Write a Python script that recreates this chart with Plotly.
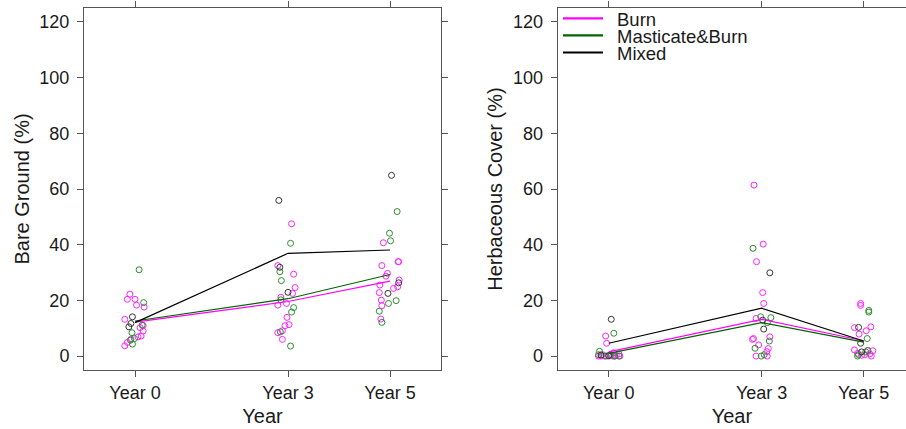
import plotly.graph_objects as go

# Sampling years and their labels
years = [0, 3, 5]
year_labels = ["Year 0", "Year 3", "Year 5"]
y_ticks = [0, 20, 40, 60, 80, 100, 120]
groups = ["Burn", "Masticate&Burn", "Mixed"]

# ---- Bare ground (%) : plot-level observations (jittered year position, value)
bare_burn_x = [-0.10, -0.15, 0.00, 0.03, 0.18, -0.20, 0.16, 0.10, 0.16, 0.12, 0.06, -0.08, -0.15, -0.20,
               3.07, 2.80, 3.11, 3.14, 3.09, 2.86, 2.97, 2.80, 2.98, 3.02, 2.94, 2.89, 2.80, 2.89,
               4.87, 5.16, 5.17, 4.84, 4.95, 4.92, 5.18, 4.80, 5.15, 5.07, 4.79, 4.83, 4.84, 4.82]
bare_burn_y = [22.2, 20.4, 20.4, 18.3, 17.6, 13.2, 11.0, 10.2, 9.0, 7.2, 6.9, 6.0, 4.9, 3.7,
               47.5, 32.5, 29.4, 24.6, 22.5, 21.1, 18.9, 18.3, 13.9, 11.3, 10.9, 9.1, 8.4, 6.0,
               40.7, 33.9, 33.9, 32.5, 29.7, 28.7, 27.3, 25.5, 24.9, 24.3, 22.8, 20.1, 18.1, 13.3]

bare_mb_x = [0.08, 0.17, 0.14, -0.06, -0.01, -0.09, -0.05,
             3.05, 2.84, 2.87, 2.86, 3.11, 3.07, 2.85, 3.05,
             5.14, 4.99, 5.01, 5.12, 4.97, 4.79, 4.84]
bare_mb_y = [31.0, 19.2, 11.1, 8.4, 6.3, 5.7, 4.3,
             40.5, 30.3, 27.1, 20.2, 17.4, 15.8, 8.7, 3.6,
             51.9, 44.1, 41.4, 19.9, 18.9, 16.1, 12.1]

bare_mix_x = [-0.05, -0.08, -0.12, 2.82, 2.84, 3.00, 5.03, 5.17, 4.96]
bare_mix_y = [14.1, 11.7, 10.5, 55.9, 31.9, 22.9, 64.9, 26.3, 22.5]

# Group means by year
bare_burn_mean = [12.2, 19.6, 26.9]
bare_mb_mean = [12.6, 20.6, 29.3]
bare_mix_mean = [12.0, 36.9, 38.1]

# ---- Herbaceous cover (%)
herb_burn_x = [-0.06, -0.04, 0.10, 0.20, -0.12, 0.05, 0.15, -0.20, -0.08, 0.00, 0.08, 0.12, 0.22, -0.15,
               2.85, 3.03, 2.90, 3.02, 3.04, 2.89, 3.16, 2.84, 2.82, 2.94, 3.13, 3.10, 2.89, 3.11,
               4.94, 4.94, 5.14, 4.82, 5.05, 4.91, 4.82, 5.08, 5.18, 4.88, 5.12, 5.02, 4.96, 5.15]
herb_burn_y = [7.2, 4.6, 1.2, 0.8, 0.5, 0.3, 0.2, 0.0, 0.0, 0.0, 0.0, 0.0, 0.0, 0.0,
               61.4, 40.2, 33.9, 22.8, 18.9, 13.5, 6.9, 6.3, 6.0, 4.0, 2.7, 1.6, 0.0, 0.0,
               18.9, 18.2, 10.5, 10.2, 9.1, 7.9, 2.2, 2.0, 1.9, 1.0, 0.8, 0.5, 0.3, 0.0]

herb_mb_x = [0.10, -0.18, -0.20, 0.03, -0.05, 0.12, 0.20,
             2.83, 2.98, 3.18, 3.11, 3.15, 2.87, 3.05, 2.99,
             5.10, 5.10, 5.07, 5.08, 5.04, 4.90, 4.88]
herb_mb_y = [8.2, 1.7, 0.5, 0.3, 0.0, 0.0, 0.0,
             38.7, 14.1, 13.8, 12.0, 5.4, 2.8, 0.5, 0.0,
             16.4, 15.8, 6.3, 2.0, 1.5, 0.5, 0.0]

herb_mix_x = [0.05, -0.15, 0.00, 3.16, 3.02, 3.04, 4.90, 4.94, 4.96]
herb_mix_y = [13.2, 0.4, 0.2, 29.9, 12.9, 9.7, 10.3, 4.6, 1.5]

herb_burn_mean = [1.5, 13.2, 5.5]
herb_mb_mean = [1.0, 12.0, 5.0]
herb_mix_mean = [4.6, 17.2, 5.4]

# ---- styling
line_colors = ["#ff00ff", "#006400", "#000000"]
point_colors = ["#ff22ff", "#2e8b2e", "#333333"]
FONT = "Liberation Sans, Arial, sans-serif"
TEXT = "#1a1a1a"
FRAME = "#555555"
W, H = 906, 429

fig = go.Figure()

panels = [
    ("x", "y", [(bare_burn_x, bare_burn_y), (bare_mb_x, bare_mb_y), (bare_mix_x, bare_mix_y)],
     [bare_burn_mean, bare_mb_mean, bare_mix_mean]),
    ("x2", "y2", [(herb_burn_x, herb_burn_y), (herb_mb_x, herb_mb_y), (herb_mix_x, herb_mix_y)],
     [herb_burn_mean, herb_mb_mean, herb_mix_mean]),
]

for xa, ya, pts, means in panels:
    for i, (px, py) in enumerate(pts):
        fig.add_trace(go.Scatter(
            x=px, y=py, xaxis=xa, yaxis=ya, mode="markers", showlegend=False,
            marker=dict(symbol="circle-open", size=6, color=point_colors[i],
                        line=dict(width=1, color=point_colors[i])),
            hoverinfo="skip"))
    for i, m in enumerate(means):
        fig.add_trace(go.Scatter(
            x=years, y=m, xaxis=xa, yaxis=ya, mode="lines", showlegend=False,
            line=dict(color=line_colors[i], width=1.2), name=groups[i]))

# pixel -> paper helpers for the layout
def px_x(p):
    return p / W

def px_y(p):
    return 1 - p / H

y_dom = [px_y(370), px_y(8)]

common_x = dict(tickvals=years, ticktext=year_labels, showline=True, linecolor=FRAME, linewidth=1,
                ticks="outside", ticklen=6, tickcolor=FRAME, showgrid=False, zeroline=False,
                tickfont=dict(size=18, family=FONT, color=TEXT), ticklabelstandoff=0)
common_y = dict(tickvals=y_ticks, range=[-5, 125], showline=True, linecolor=FRAME, linewidth=1,
                ticks="outside", ticklen=6, tickcolor=FRAME, showgrid=False, zeroline=False,
                tickfont=dict(size=18, family=FONT, color=TEXT), ticklabelstandoff=4, domain=y_dom)

fig.update_layout(
    width=W, height=H, margin=dict(l=0, r=0, t=0, b=0),
    paper_bgcolor="white", plot_bgcolor="white",
    font=dict(family=FONT, color=TEXT),
    showlegend=False,
    xaxis=dict(common_x, domain=[px_x(84), px_x(441)], range=[-1, 6], mirror="ticks", anchor="y",
               title=dict(text="Year", font=dict(size=20, family=FONT, color=TEXT), standoff=7)),
    yaxis=dict(common_y, mirror="ticks", anchor="x",
               title=dict(text="Bare Ground (%)", font=dict(size=20, family=FONT, color=TEXT), standoff=4)),
    xaxis2=dict(common_x, domain=[px_x(557.7), 1.0], range=[-1, 5.83], mirror="ticks", anchor="y2",
                title=dict(text="Year", font=dict(size=20, family=FONT, color=TEXT), standoff=7)),
    yaxis2=dict(common_y, mirror=False, anchor="x2",
                title=dict(text="Herbaceous Cover (%)", font=dict(size=20, family=FONT, color=TEXT), standoff=5)),
)

# key in the upper-left corner of the right panel
key_rows = [18.3, 35.3, 52.5]
for i, name in enumerate(groups):
    fig.add_shape(type="line", xref="paper", yref="paper",
                  x0=px_x(563), x1=px_x(603), y0=px_y(key_rows[i]), y1=px_y(key_rows[i]),
                  line=dict(color=line_colors[i], width=2.2))
    fig.add_annotation(xref="paper", yref="paper", x=px_x(616), y=px_y(key_rows[i] + 1.3),
                       xanchor="left", yanchor="middle", showarrow=False, text=name,
                       height=17, borderpad=0,
                       font=dict(size=18.5, family=FONT, color=TEXT))

fig.write_html("out.html")
